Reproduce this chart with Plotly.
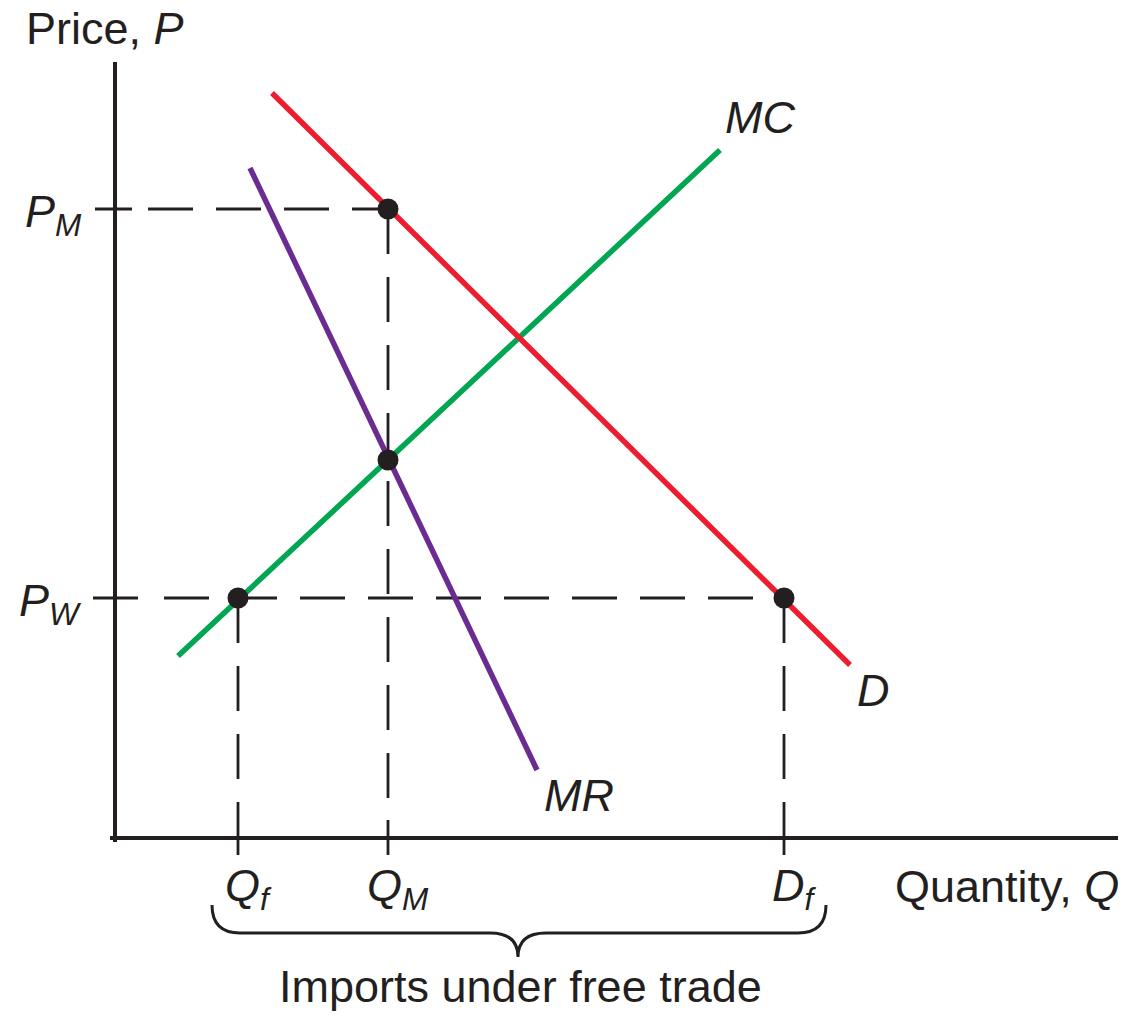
import plotly.graph_objects as go

# ---- data (quantity / price units; origin at the axes corner) ----
qf, qm, df = 123, 273, 669          # Q_f, Q_M, D_f
pw, pm = 240, 629                    # P_W, P_M
p_mc_at_qm = 378                     # MC = MR at Q_M

d_q = [157, 735]
d_p = [745, 173]
mc_q = [63, 605]
mc_p = [182, 688]
mr_q = [135, 422]
mr_p = [670, 68]

pts_q = [qm, qm, qf, df]
pts_p = [pm, p_mc_at_qm, pw, pw]

x_axis_q = [-5, 1003]
y_axis_p = [-4, 776]

x_ticks = [qf, qm, df]
x_tick_labels = ["<i>Q</i><sub><i>f</i></sub>", "<i>Q</i><sub><i>M</i></sub>", "<i>D</i><sub><i>f</i></sub>"]
y_ticks = [pm, pw]
y_tick_labels = ["<i>P</i><sub><i>M</i></sub>", "<i>P</i><sub><i>W</i></sub>"]

INK = "#231f20"
FONT = "Liberation Sans"
FS = 45

fig = go.Figure()

def seg(x, y, color=INK, width=2.8, dash=None):
    fig.add_trace(go.Scatter(x=x, y=y, mode="lines",
                             line=dict(color=color, width=width, dash=dash),
                             hoverinfo="skip", showlegend=False))

# axes
seg([0, 0], y_axis_p, width=4)
seg(x_axis_q, [0, 0], width=4)

# ticks
seg([-20, 17], [pm, pm])
seg([-22, 23], [pw, pw])
for xt in x_ticks:
    seg([xt, xt], [18, -17])

# dashed guides
dash = "45px,23px"
seg([33, qm], [pm, pm], dash=dash)
seg([49, df], [pw, pw], dash=dash)
seg([qm, qm], [pm, 18], dash=dash)
seg([qf, qf], [pw, 18], dash=dash)
seg([df, df], [pw, 18], dash=dash)

# curves
seg(mc_q, mc_p, color="#00a651", width=5.5)
seg(mr_q, mr_p, color="#6a2c91", width=5.5)
seg(d_q, d_p, color="#ed1c2e", width=5.5)

# points
fig.add_trace(go.Scatter(x=pts_q, y=pts_p, mode="markers",
                         marker=dict(color=INK, size=21),
                         hoverinfo="skip", showlegend=False))

def label(x, y, text, xanchor="center"):
    fig.add_annotation(x=x, y=y, text=text, showarrow=False, xanchor=xanchor,
                       yanchor="middle", font=dict(family=FONT, size=FS, color=INK))

label(-10, 810, "Price, <i>P</i>")
for yt, t in zip(y_ticks, y_tick_labels):
    label(-31, yt - 5, t, xanchor="right")
for xt, t in zip(x_ticks, x_tick_labels):
    label(xt + 10, -50, t)
label(892, -48, "Quantity, <i>Q</i>")
label(645, 721, "<i>MC</i>")
label(464, 43, "<i>MR</i>")
label(758, 148, "<i>D</i>")
label(405, -148, "Imports under free trade")

# brace under the imports range
brace = "M 97,-67 Q 97,-95 125,-95 L 375,-95 Q 403,-95 403,-119 Q 403,-95 431,-95 L 683,-95 Q 711,-95 711,-67"
fig.add_shape(type="path", path=brace, xref="x", yref="y",
              line=dict(color=INK, width=3))

fig.update_layout(
    width=1126, height=1016,
    margin=dict(l=0, r=0, t=0, b=0),
    plot_bgcolor="white", paper_bgcolor="white",
    xaxis=dict(range=[-115, 1011], visible=False, fixedrange=True),
    yaxis=dict(range=[-178, 838], visible=False, fixedrange=True),
)

fig.write_html("out.html", config={"displayModeBar": False},
               post_script="document.body.style.margin='0';")
